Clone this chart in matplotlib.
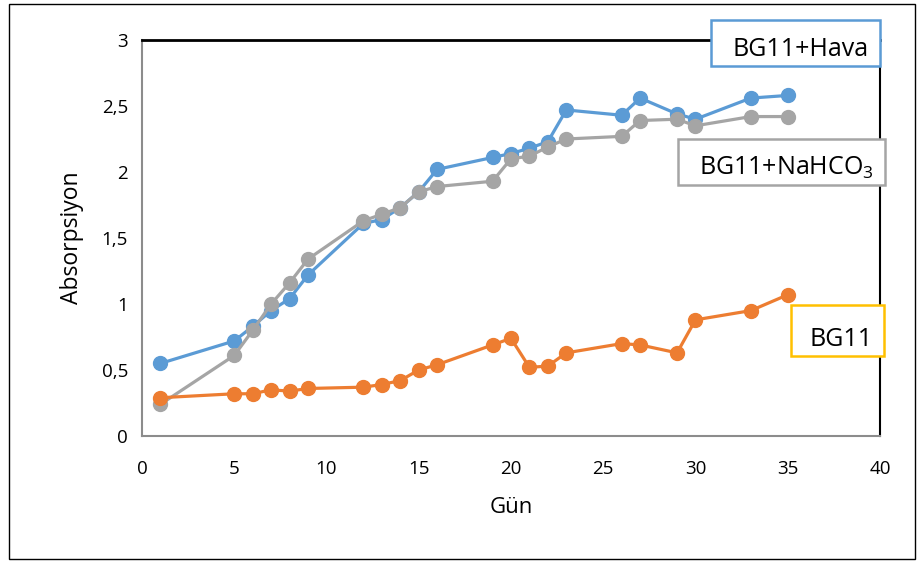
"""
Absorpsiyon - gun grafigi.
"""

import matplotlib.pyplot as plt
from matplotlib.patches import Rectangle

plt.rcParams["font.family"] = ["Open Sans", "DejaVu Sans"]
plt.rcParams["mathtext.default"] = "regular"

days = [1, 5, 6, 7, 8, 9, 12, 13, 14, 15, 16, 19, 20, 21, 22, 23, 26, 27, 29, 30, 33, 35]

hava = [0.55, 0.72, 0.83, 0.95, 1.04, 1.22, 1.61, 1.64, 1.73, 1.85, 2.02,
        2.11, 2.14, 2.18, 2.23, 2.47, 2.43, 2.56, 2.44, 2.40, 2.56, 2.58]

nahco3 = [0.24, 0.61, 0.80, 1.00, 1.16, 1.34, 1.63, 1.68, 1.73, 1.85, 1.89,
          1.93, 2.10, 2.12, 2.19, 2.25, 2.27, 2.39, 2.40, 2.35, 2.42, 2.42]

bg11 = [0.29, 0.32, 0.32, 0.35, 0.34, 0.36, 0.37, 0.39, 0.42, 0.50, 0.54,
        0.69, 0.74, 0.52, 0.53, 0.63, 0.70, 0.69, 0.63, 0.88, 0.95, 1.07]

x_ticks = [0, 5, 10, 15, 20, 25, 30, 35, 40]
y_ticks = [0, 0.5, 1, 1.5, 2, 2.5, 3]
y_tick_labels = ["0", "0,5", "1", "1,5", "2", "2,5", "3"]


def create_chart():
    """
    Create line chart.
    """

    fig = plt.figure(figsize=(9.2, 5.61), dpi=100)

    # outer frame
    fig.patches.append(Rectangle(
        (9 / 920, 2 / 561), 906 / 920, 555 / 561,
        transform=fig.transFigure, fill=False,
        edgecolor="black", linewidth=1.0
    ))

    ax = fig.add_axes([0.1543, 0.2228, 0.8022, 0.7059])

    series = [
        (hava, "#5B9BD5"),
        (nahco3, "#A5A5A5"),
        (bg11, "#ED7D31"),
    ]

    for values, color in series:
        ax.plot(
            days,
            values,
            color=color,
            linewidth=2.3,
            marker="o",
            markersize=10,
            clip_on=False
        )

    ax.set_xlim(0, 40)
    ax.set_ylim(0, 3)
    ax.set_xticks(x_ticks)
    ax.set_yticks(y_ticks)
    ax.set_yticklabels(y_tick_labels)
    ax.tick_params(length=0, labelsize=13.5)
    ax.tick_params(axis="y", pad=10)
    ax.tick_params(axis="x", pad=17)

    ax.spines["left"].set_color("#8C8C8C")
    ax.spines["bottom"].set_color("#8C8C8C")
    ax.spines["left"].set_linewidth(1.5)
    ax.spines["bottom"].set_linewidth(1.5)
    ax.spines["top"].set_color("black")
    ax.spines["top"].set_linewidth(2.0)
    ax.spines["right"].set_color("black")
    ax.spines["right"].set_linewidth(1.5)

    ax.set_xlabel("Gün", fontsize=16, labelpad=14)
    ax.set_ylabel("Absorpsiyon", fontsize=16.5, labelpad=13)

    boxes = [
        ("BG11+Hava", "#5B9BD5", 711, 20, 169, 46),
        ("BG11+NaHCO$_3$", "#A5A5A5", 678, 139, 207, 46),
        ("BG11", "#FFC000", 791, 305, 93, 51),
    ]

    for text, color, x0, y0, w, h in boxes:
        fig.patches.append(Rectangle(
            (x0 / 920, 1 - (y0 + h) / 561), w / 920, h / 561,
            transform=fig.transFigure, facecolor="white",
            edgecolor=color, linewidth=1.8, zorder=5
        ))
        fig.text(
            (x0 + w - 11) / 920,
            1 - (y0 + h - 10) / 561,
            text,
            ha="right",
            va="baseline",
            fontsize=18,
            zorder=6
        )

    fig.savefig("out.png", dpi=100)


if __name__ == "__main__":

    create_chart()
